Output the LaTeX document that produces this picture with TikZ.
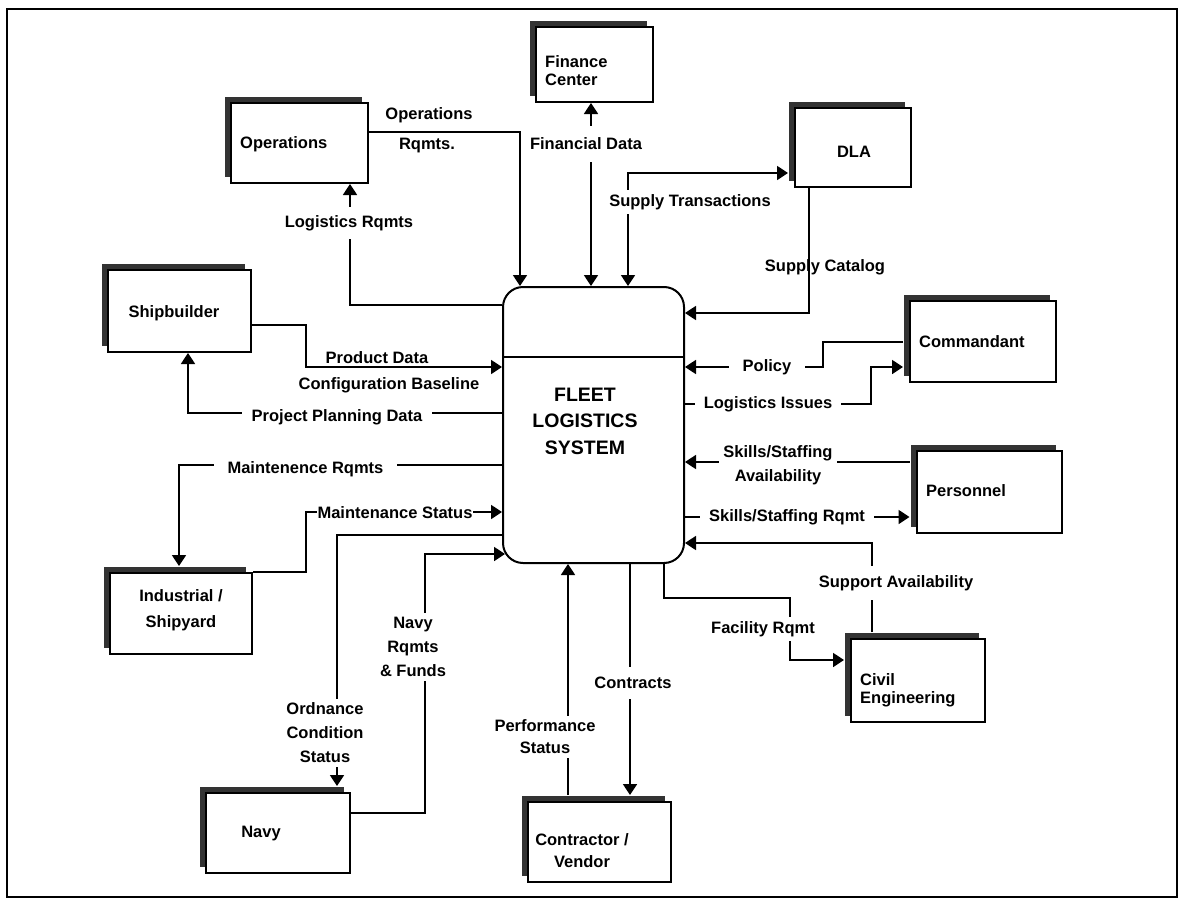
\documentclass[tikz,border=0pt]{standalone}
\usepackage{fontspec}
\setmainfont{Liberation Sans}
\usetikzlibrary{arrows.meta,shadows,calc}
\begin{document}
\begin{tikzpicture}[x=1pt,y=-1pt,
  box/.style={draw,line width=2pt,fill=white,inner sep=0pt,
    drop shadow={shadow xshift=-6pt,shadow yshift=6pt,opacity=1,fill=black!80}},
  lbl/.style={font=\bfseries\fontsize{16.5}{24}\selectfont,inner sep=1pt,align=center},
  gap/.style={lbl,fill=white,inner sep=4pt},
  tip/.tip={Triangle[length=11pt,width=14pt]},
  flow/.style={line width=1.8pt,-tip},
  flowboth/.style={line width=1.8pt,tip-tip}]
\useasboundingbox (0,0) rectangle (1181,902);
\draw[line width=1.5pt] (7,9) rectangle (1177,897);

% central process
\node[draw,line width=2pt,rounded corners=20pt,minimum width=181pt,minimum height=276pt,inner sep=0pt] (fls) at (593.5,425) {};
\draw[line width=1.5pt] (fls.west |- 0,357) -- (fls.east |- 0,357);
\node[font=\bfseries\fontsize{19.5}{26.5}\selectfont,align=center] (flsT) at (585,421) {FLEET\\LOGISTICS\\SYSTEM};

% external entities
\node[box,minimum width=137pt,minimum height=80pt] (ops) at (299.5,143) {};
\node[box,minimum width=117pt,minimum height=75pt] (fin) at (594.5,64.5) {};
\node[box,minimum width=116pt,minimum height=79pt] (dla) at (853,147.5) {};
\node[box,minimum width=146pt,minimum height=81pt] (com) at (983,341.5) {};
\node[box,minimum width=145pt,minimum height=82pt] (per) at (989,492) {};
\node[box,minimum width=134pt,minimum height=83pt] (ce) at (918,680.5) {};
\node[box,minimum width=143pt,minimum height=80pt] (con) at (599.5,842) {};
\node[box,minimum width=144pt,minimum height=80pt] (navy) at (278,833) {};
\node[box,minimum width=142pt,minimum height=81pt] (ind) at (181,613.5) {};
\node[box,minimum width=143pt,minimum height=82pt] (sb) at (179.5,311) {};

\node[lbl,anchor=west] (opsT) at (239,144) {Operations};
\node[lbl,anchor=west,align=left,font=\bfseries\fontsize{16.5}{18}\selectfont] (finT) at (544,71) {Finance\\Center};
\node[lbl] (dlaT) at (854,152) {DLA};
\node[lbl,anchor=west] (comT) at (918,342) {Commandant};
\node[lbl,anchor=west] (perT) at (925,491) {Personnel};
\node[lbl,anchor=west,align=left,font=\bfseries\fontsize{16.5}{18}\selectfont] (ceT) at (859,690) {Civil\\Engineering};
\node[lbl,font=\bfseries\fontsize{16.5}{22}\selectfont] (conT) at (582,851) {Contractor /\\Vendor};
\node[lbl] (navyT) at (261,834) {Navy};
\node[lbl,font=\bfseries\fontsize{16.5}{26}\selectfont] (indT) at (181,610) {Industrial /\\Shipyard};
\node[lbl] (sbT) at (174,313) {Shipbuilder};

% data flows
\draw[flow] (ops.east |- 0,132) -| (fls.north -| 520,0);
\draw[flow] (fls.west |- 0,305) -| (ops.south -| 350,0);
\draw[flowboth] (fls.north -| 591,0) -- (fin.south -| 591,0);
\draw[flowboth] (fls.north -| 628,0) |- ($(dla.west |- 0,173)+(-6,0)$);
\draw[flow] (dla.south -| 809,0) |- (fls.east |- 0,313);
\draw[flow] ($(com.west |- 0,342)+(-6,0)$) -- (823,342) -- (823,367) -- (fls.east |- 0,367);
\draw[flow] (fls.east |- 0,404) -- (871,404) -- (871,367) -- ($(com.west |- 0,367)+(-6,0)$);
\draw[flow] ($(per.west |- 0,462)+(-6,0)$) -- (fls.east |- 0,462);
\draw[flow] (fls.east |- 0,517) -- ($(per.west |- 0,517)+(-6,0)$);
\draw[flow] ($(ce.north -| 872,0)+(0,-6)$) |- (fls.east |- 0,543);
\draw[flow] (fls.south -| 664,0) -- (664,598) -- (790,598) -- (790,660) -- ($(ce.west |- 0,660)+(-6,0)$);
\draw[flow] (fls.south -| 630,0) -- ($(con.north -| 630,0)+(0,-6)$);
\draw[flow] ($(con.north -| 568,0)+(0,-6)$) -- (fls.south -| 568,0);
\draw[flow] (navy.east |- 0,813) -| (425,554) -- ($(fls.west |- 0,554)+(3,0)$);
\draw[flow] (fls.west |- 0,535) -| ($(navy.north -| 337,0)+(0,-6)$);
\draw[flow] (ind.north east) -| (306,512) -- (fls.west |- 0,512);
\draw[flow] (fls.west |- 0,465) -| ($(ind.north -| 179,0)+(0,-6)$);
\draw[flow] (sb.east |- 0,325) -| (306,367) -- (fls.west |- 0,367);
\draw[flow] (fls.west |- 0,413) -| (sb.south -| 188,0);

% flow labels
\node[lbl] (lOps1) at (429,115) {Operations};
\node[lbl] (lOps2) at (427,146) {Rqmts.};
\node[gap,inner ysep=8pt] (lLog) at (349,223) {Logistics Rqmts};
\node[gap,inner ysep=12pt] (lFin) at (586,144) {Financial Data};
\node[gap] (lST) at (690,202) {Supply Transactions};
\node[lbl] (lSC) at (825,267) {Supply Catalog};
\node[gap,inner xsep=14pt] (lPol) at (767,367) {Policy};
\node[gap,inner xsep=9pt] (lLI) at (768,404) {Logistics Issues};
\node[gap] (lSSA) at (778,465) {Skills/Staffing\\Availability};
\node[gap,inner xsep=9pt] (lSSR) at (787,517) {Skills/Staffing Rqmt};
\node[gap,inner ysep=9pt] (lSup) at (896,583) {Support Availability};
\node[gap] (lFac) at (763,629) {Facility Rqmt};
\node[gap,inner ysep=10pt] (lCon) at (633,683) {Contracts};
\node[gap,font=\bfseries\fontsize{16.5}{22}\selectfont] (lPerf) at (545,737) {Performance\\Status};
\node[gap] (lNavy) at (413,647) {Navy\\Rqmts\\\& Funds};
\node[gap] (lOrd) at (325,733) {Ordnance\\Condition\\Status};
\node[lbl,fill=white,inner sep=0.5pt] (lMS) at (395,513) {Maintenance Status};
\node[gap,inner xsep=14pt] (lMR) at (305.5,469) {Maintenence Rqmts};
\node[lbl] (lPD) at (377,358) {Product Data};
\node[lbl] (lCB) at (389,385) {Configuration Baseline};
\node[gap,inner xsep=10pt] (lPP) at (337,417) {Project Planning Data};
\end{tikzpicture}
\end{document}
